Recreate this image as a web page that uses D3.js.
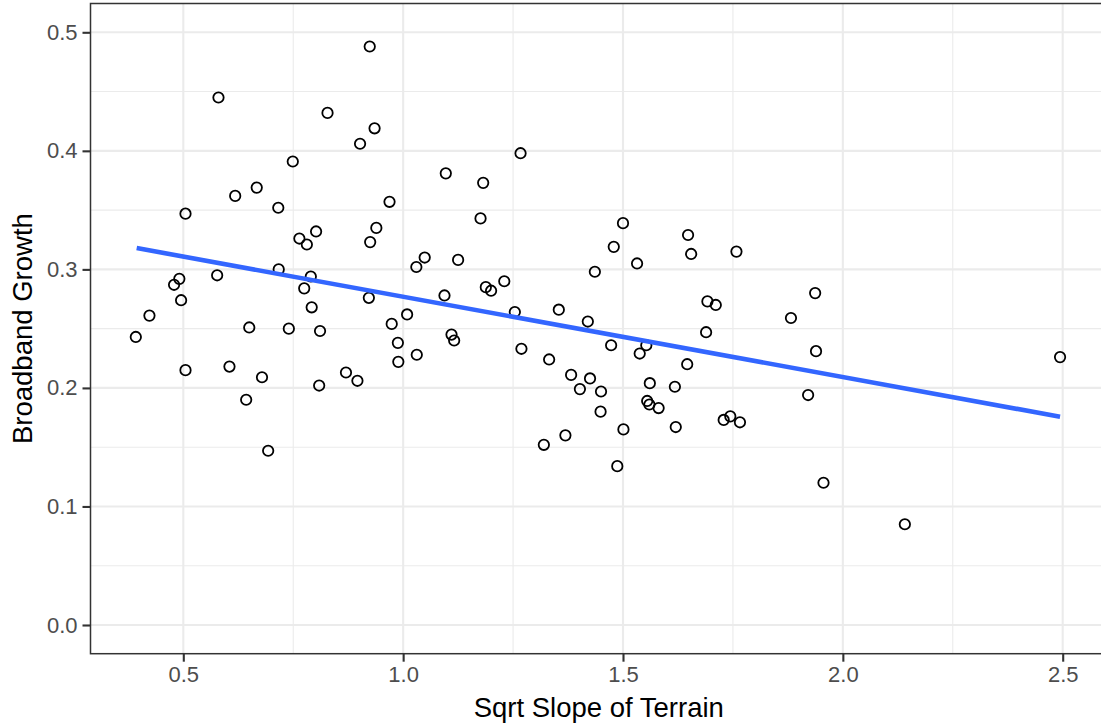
<!DOCTYPE html>
<html>
<head>
<meta charset="utf-8">
<script src="https://cdn.jsdelivr.net/npm/d3@7"></script>
<style>
  body { margin: 0; background: #fff; }
  svg { display: block; font-family: "Liberation Sans", Arial, sans-serif; }
</style>
</head>
<body>
<svg id="chart" width="1101" height="728"></svg>
<script>
// sqrt slope of terrain (x) and broadband growth (y)
var slope = [
  0.580, 0.828, 0.749, 0.618, 0.667, 0.716, 0.505, 0.764, 0.781, 0.802, 0.717,
  0.924, 0.935, 0.902, 1.267, 1.097, 1.182, 0.969, 1.176, 0.939, 0.925, 1.049, 1.030, 1.125,
  0.790, 0.491, 0.479, 0.577, 0.775, 0.495, 0.792, 0.423, 0.392, 0.650, 0.740, 0.811,
  0.505, 0.605, 0.679, 0.870, 0.809, 0.643, 0.693,
  0.922, 1.094, 1.188, 1.200, 1.230, 1.436, 1.254, 1.354, 1.420, 1.009, 0.974, 0.988,
  0.989, 1.031, 1.110, 1.116, 1.269, 1.332, 1.382, 1.425, 1.402, 1.320, 1.369, 0.896,
  1.500, 1.479, 1.648, 1.655, 1.758, 1.532, 1.692, 1.711, 1.882, 1.937, 1.689, 1.473,
  1.553, 1.538, 1.646, 1.939, 1.450, 1.449, 1.561, 1.618, 1.555, 1.560, 1.581, 1.921,
  1.501, 1.620, 1.729, 1.744, 1.766, 1.487, 1.956,
  2.494, 2.141
];
var growth = [
  0.445, 0.432, 0.391, 0.362, 0.369, 0.352, 0.347, 0.326, 0.321, 0.332, 0.300,
  0.488, 0.419, 0.406, 0.398, 0.381, 0.373, 0.357, 0.343, 0.335, 0.323, 0.310, 0.302, 0.308,
  0.294, 0.292, 0.287, 0.295, 0.284, 0.274, 0.268, 0.261, 0.243, 0.251, 0.250, 0.248,
  0.215, 0.218, 0.209, 0.213, 0.202, 0.190, 0.147,
  0.276, 0.278, 0.285, 0.282, 0.290, 0.298, 0.264, 0.266, 0.256, 0.262, 0.254, 0.238,
  0.222, 0.228, 0.245, 0.240, 0.233, 0.224, 0.211, 0.208, 0.199, 0.152, 0.160, 0.206,
  0.339, 0.319, 0.329, 0.313, 0.315, 0.305, 0.273, 0.270, 0.259, 0.280, 0.247, 0.236,
  0.236, 0.229, 0.220, 0.231, 0.197, 0.180, 0.204, 0.201, 0.189, 0.186, 0.183, 0.194,
  0.165, 0.167, 0.173, 0.176, 0.171, 0.134, 0.120,
  0.226, 0.085
];
// fitted lm line ends
var fitX = [0.394, 2.494];
var fitY = [0.318, 0.1757];

var xTicks = [0.5, 1.0, 1.5, 2.0, 2.5];
var xMinor = [0.75, 1.25, 1.75, 2.25];
var yTicks = [0.0, 0.1, 0.2, 0.3, 0.4, 0.5];
var yMinor = [0.05, 0.15, 0.25, 0.35, 0.45];

var svg = d3.select("#chart");
var panel = { left: 90.5, top: 3.5, right: 1107, bottom: 653.7 };

var x = d3.scaleLinear().domain([0.5, 2.5]).range([183.3, 1062.7]);
var y = d3.scaleLinear().domain([0, 0.5]).range([625, 32.3]);

var g = svg.append("g");

// minor grid
g.selectAll(".xminor").data(xMinor).enter().append("line")
    .attr("x1", function (d) { return x(d); }).attr("x2", function (d) { return x(d); })
    .attr("y1", panel.top).attr("y2", panel.bottom)
    .attr("stroke", "#ebebeb").attr("stroke-width", 1.1);
g.selectAll(".yminor").data(yMinor).enter().append("line")
    .attr("y1", function (d) { return y(d); }).attr("y2", function (d) { return y(d); })
    .attr("x1", panel.left).attr("x2", panel.right)
    .attr("stroke", "#ebebeb").attr("stroke-width", 1.1);
// major grid
g.selectAll(".xmajor").data(xTicks).enter().append("line")
    .attr("x1", function (d) { return x(d); }).attr("x2", function (d) { return x(d); })
    .attr("y1", panel.top).attr("y2", panel.bottom)
    .attr("stroke", "#ebebeb").attr("stroke-width", 2.1);
g.selectAll(".ymajor").data(yTicks).enter().append("line")
    .attr("y1", function (d) { return y(d); }).attr("y2", function (d) { return y(d); })
    .attr("x1", panel.left).attr("x2", panel.right)
    .attr("stroke", "#ebebeb").attr("stroke-width", 2.1);

// points
var pts = slope.map(function (s, i) { return [s, growth[i]]; });
g.selectAll("circle").data(pts).enter().append("circle")
    .attr("cx", function (d) { return x(d[0]); })
    .attr("cy", function (d) { return y(d[1]); })
    .attr("r", 5.2)
    .attr("fill", "none")
    .attr("stroke", "#000")
    .attr("stroke-width", 1.8);

// lm line
var fit = fitX.map(function (v, i) { return [v, fitY[i]]; });
g.append("path")
    .attr("d", d3.line().x(function (d) { return x(d[0]); }).y(function (d) { return y(d[1]); })(fit))
    .attr("fill", "none")
    .attr("stroke", "#3366FF")
    .attr("stroke-width", 4.6);

// panel border
g.append("rect")
    .attr("x", panel.left).attr("y", panel.top)
    .attr("width", panel.right - panel.left).attr("height", panel.bottom - panel.top)
    .attr("fill", "none").attr("stroke", "#333333").attr("stroke-width", 1.5);

// axes
var xAxis = d3.axisBottom(x).tickValues(xTicks).tickFormat(d3.format(".1f"))
    .tickSize(8).tickPadding(5);
var yAxis = d3.axisLeft(y).tickValues(yTicks).tickFormat(d3.format(".1f"))
    .tickSize(8).tickPadding(5);

var xa = svg.append("g").attr("transform", "translate(0," + panel.bottom + ")").call(xAxis);
var ya = svg.append("g").attr("transform", "translate(" + panel.left + ",0)").call(yAxis);
[xa, ya].forEach(function (a) {
    a.select(".domain").remove();
    a.selectAll(".tick line").attr("stroke", "#333333").attr("stroke-width", 2.1);
    a.selectAll(".tick text").attr("fill", "#4d4d4d")
        .style("font-size", "22px").style("font-family", "'Liberation Sans', Arial, sans-serif");
});
xa.selectAll(".tick text").attr("dy", "0.71em");

// axis titles
svg.append("text")
    .attr("x", (panel.left + panel.right) / 2).attr("y", 716.5)
    .attr("text-anchor", "middle")
    .style("font-size", "27.5px").attr("fill", "#000")
    .text("Sqrt Slope of Terrain");
svg.append("text")
    .attr("transform", "translate(32," + ((panel.top + panel.bottom) / 2) + ") rotate(-90)")
    .attr("text-anchor", "middle")
    .style("font-size", "27.5px").attr("fill", "#000")
    .text("Broadband Growth");
</script>
</body>
</html>
